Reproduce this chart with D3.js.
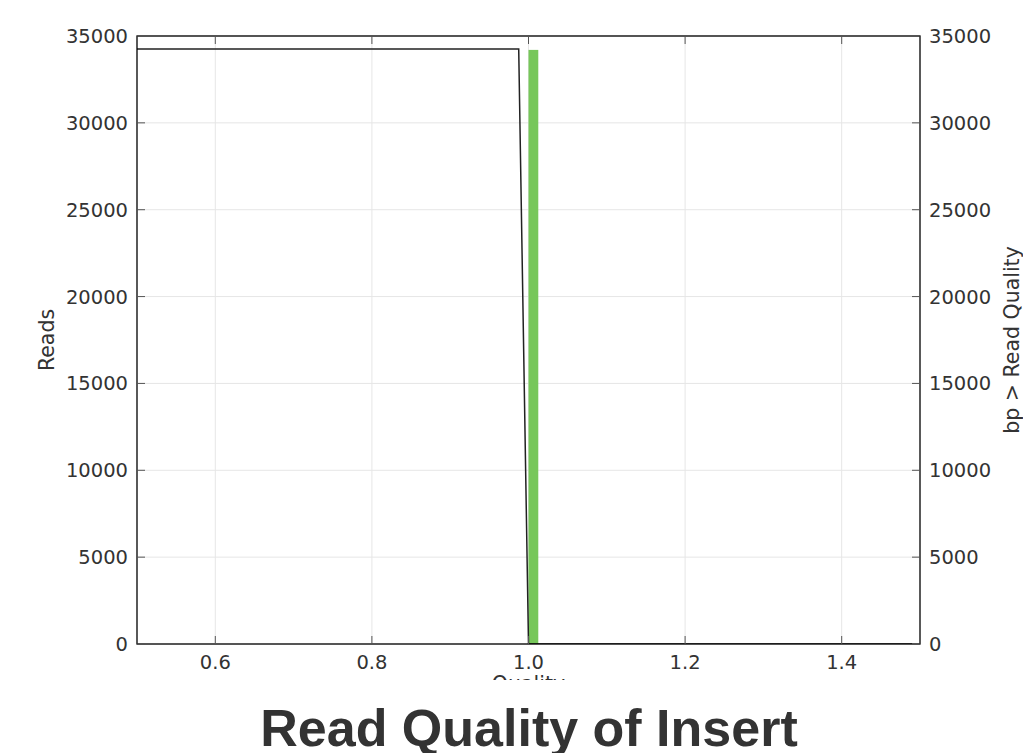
<!DOCTYPE html>
<html><head><meta charset="utf-8">
<script src="https://cdn.jsdelivr.net/npm/d3@7"></script>
<style>body{margin:0;background:#fff;} svg{display:block;}</style>
</head><body>
<svg id="c" width="1023" height="753"></svg>
<script>
// Data
const lineX = [0.5, 0.9875, 1.0, 1.49];
const lineY = [34250, 34250, 0, 0];
const barX = [1.0];
const barY = [34200];
const barWidth = 0.0125;
const xTicks = [0.6, 0.8, 1.0, 1.2, 1.4];
const yTicks = [0, 5000, 10000, 15000, 20000, 25000, 30000, 35000];
const xLabel = "Quality";
const yLabel = "Reads";
const y2Label = "bp > Read Quality";
const title = "Read Quality of Insert";

const svg = d3.select("#c");
const L = 137, R = 920, T = 36, B = 644;
const x = d3.scaleLinear().domain([0.5, 1.5]).range([L, R]);
const y = d3.scaleLinear().domain([0, 35000]).range([B, T]);
const font = "DejaVu Sans";
const fs = 19.5;
const lfs = 20.5;

svg.append("clipPath").attr("id","img").append("rect").attr("x",0).attr("y",0).attr("width",1023).attr("height",680);
svg.append("clipPath").attr("id","plot").append("rect").attr("x",L).attr("y",T).attr("width",R-L).attr("height",B-T);

const g = svg.append("g").attr("clip-path","url(#img)");

// grid
g.append("g").selectAll("line").data(xTicks).join("line")
  .attr("x1",d=>x(d)).attr("x2",d=>x(d)).attr("y1",T).attr("y2",B)
  .attr("stroke","#e6e6e6").attr("stroke-width",1);
g.append("g").selectAll("line").data(yTicks).join("line")
  .attr("x1",L).attr("x2",R).attr("y1",d=>y(d)).attr("y2",d=>y(d))
  .attr("stroke","#e6e6e6").attr("stroke-width",1);

const p = g.append("g").attr("clip-path","url(#plot)");
// bars
p.selectAll("rect.bar").data(barX).join("rect").attr("class","bar")
  .attr("x",(d)=>x(d)).attr("width",x(barX[0]+barWidth)-x(barX[0]))
  .attr("y",(d,i)=>y(barY[i])).attr("height",(d,i)=>y(0)-y(barY[i]))
  .attr("fill","#77c75a");
// line
p.append("path").datum(lineX.map((d,i)=>[d,lineY[i]]))
  .attr("d", d3.line().x(d=>x(d[0])).y(d=>y(d[1])))
  .attr("fill","none").attr("stroke","#222").attr("stroke-width",1.5);

// frame
g.append("rect").attr("x",L).attr("y",T).attr("width",R-L).attr("height",B-T)
  .attr("fill","none").attr("stroke","#000").attr("stroke-width",1.3);

// ticks (inside)
const tk = g.append("g").attr("stroke","#555").attr("stroke-width",1);
xTicks.forEach(t=>{
  tk.append("line").attr("x1",x(t)).attr("x2",x(t)).attr("y1",B).attr("y2",B-8);
  tk.append("line").attr("x1",x(t)).attr("x2",x(t)).attr("y1",T).attr("y2",T+8);
});
yTicks.forEach(t=>{
  tk.append("line").attr("x1",L).attr("x2",L+8).attr("y1",y(t)).attr("y2",y(t));
  tk.append("line").attr("x1",R).attr("x2",R-8).attr("y1",y(t)).attr("y2",y(t));
});

// tick labels
const lab = g.append("g").attr("font-family",font).attr("font-size",fs).attr("fill","#333");
lab.selectAll("text.xl").data(xTicks).join("text").attr("class","xl")
  .attr("x",d=>x(d)).attr("y",B+25).attr("text-anchor","middle").text(d=>d3.format(".1f")(d));
lab.selectAll("text.yl").data(yTicks).join("text").attr("class","yl")
  .attr("x",L-9).attr("y",d=>y(d)+7).attr("text-anchor","end").text(d=>d);
lab.selectAll("text.yr").data(yTicks).join("text").attr("class","yr")
  .attr("x",R+9).attr("y",d=>y(d)+7).attr("text-anchor","start").text(d=>d);

// axis labels
lab.append("text").attr("font-size",lfs).attr("transform",`translate(54,${(T+B)/2}) rotate(-90)`).attr("text-anchor","middle").text(yLabel);
lab.append("text").attr("font-size",lfs).attr("transform",`translate(1019,${(T+B)/2}) rotate(-90)`).attr("text-anchor","middle").text(y2Label);
lab.append("text").attr("font-size",lfs).attr("x",x(1.0)).attr("y",B+47).attr("text-anchor","middle").text(xLabel);

// title
svg.append("text").attr("x",529).attr("y",746).attr("text-anchor","middle")
  .attr("font-family","Liberation Sans").attr("font-weight","bold").attr("font-size",52)
  .attr("fill","#333").text(title);
</script>
</body></html>
